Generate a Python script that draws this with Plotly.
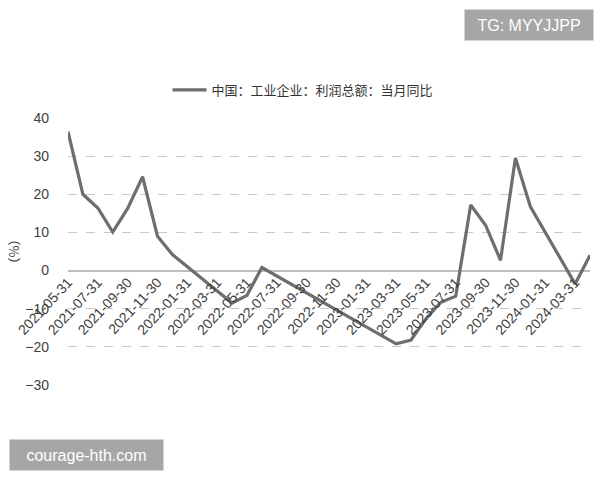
import pandas as pd
import plotly.graph_objects as go

# Month-end categories, 2021-05 .. 2024-04
months = [d.strftime("%Y-%m-%d") for d in pd.date_range("2021-05-31", periods=36, freq="ME")]

# 中国:工业企业:利润总额:当月同比 (%), None = not published
values = [
    36.4, 20.0, 16.4, 10.1, 16.3, 24.6, 9.0, 4.2,          # 2021-05..2021-12
    None, None, None, -8.5, -6.5, 0.8,                      # 2022-01..2022-06
    None, None, None, None, None, None,                     # 2022-07..2022-12
    None, None, -19.2, -18.2, -12.6, -8.3, -6.7, 17.2,      # 2023-01..2023-08
    11.9, 2.7, 29.5, 16.8,                                  # 2023-09..2023-12
    None, None, -3.5, 4.0,                                  # 2024-01..2024-04
]

tick_labels = months[::2]
y_ticks = [-30, -20, -10, 0, 10, 20, 30, 40]
series_name = "中国：工业企业：利润总额：当月同比"

FONT = "Liberation Sans, Arial, Noto Sans CJK SC, sans-serif"
CJK = "Noto Sans CJK SC, sans-serif"

fig = go.Figure()
fig.add_trace(go.Scatter(
    x=months, y=values, mode="lines", name=series_name,
    connectgaps=True,
    line=dict(color="#6e6e6e", width=3.2),
))

ymin, ymax = -30, 40
fig.update_layout(
    width=600, height=480,
    margin=dict(l=68, r=10, t=118, b=95, autoexpand=False),
    paper_bgcolor="white", plot_bgcolor="white",
    font=dict(family=FONT, color="#404040", size=13),
    showlegend=True,
    legend=dict(
        orientation="h", xref="container", yref="container",
        x=0.505, xanchor="center", y=1 - 90 / 480, yanchor="middle",
        font=dict(family=CJK, size=13, color="#333333"),
        itemwidth=34,
    ),
    xaxis=dict(
        type="category",
        categoryorder="array", categoryarray=months,
        range=[0, len(months) - 1],
        tickmode="array", tickvals=tick_labels, ticktext=tick_labels,
        tickangle=-47,
        tickfont=dict(size=14, color="#404040"),
        showgrid=False, showline=False, ticks="",
        anchor="free", position=(0 - ymin) / (ymax - ymin),
        automargin=False,
    ),
    yaxis=dict(
        range=[ymin, ymax],
        tickmode="array", tickvals=y_ticks,
        tickfont=dict(size=14, color="#404040"),
        ticklabelstandoff=18,
        showgrid=True, gridcolor="#c8c8c8", griddash="dash", gridwidth=1,
        zeroline=True, zerolinecolor="#bdbdbd", zerolinewidth=1.5,
        showline=False, ticks="",
        automargin=False,
        title=dict(text="（%）", font=dict(family=CJK, size=13, color="#404040"), standoff=2),
    ),
    annotations=[
        dict(text="TG: MYYJJPP", xref="paper", yref="paper",
             x=(529 - 68) / 522, y=(385 - 25) / 267, showarrow=False,
             bgcolor="#a6a6a6", font=dict(color="white", size=16, family=FONT),
             width=120, height=22, borderpad=4, xanchor="center", yanchor="middle"),
        dict(text="courage-hth.com", xref="paper", yref="paper",
             x=(86.5 - 68) / 522, y=(385 - 455) / 267, showarrow=False,
             bgcolor="#a6a6a6", font=dict(color="white", size=16, family=FONT),
             width=145, height=22, borderpad=4, xanchor="center", yanchor="middle"),
    ],
)

fig.write_html("out.html", config={"displayModeBar": False},
               post_script="document.body.style.margin='0';")
